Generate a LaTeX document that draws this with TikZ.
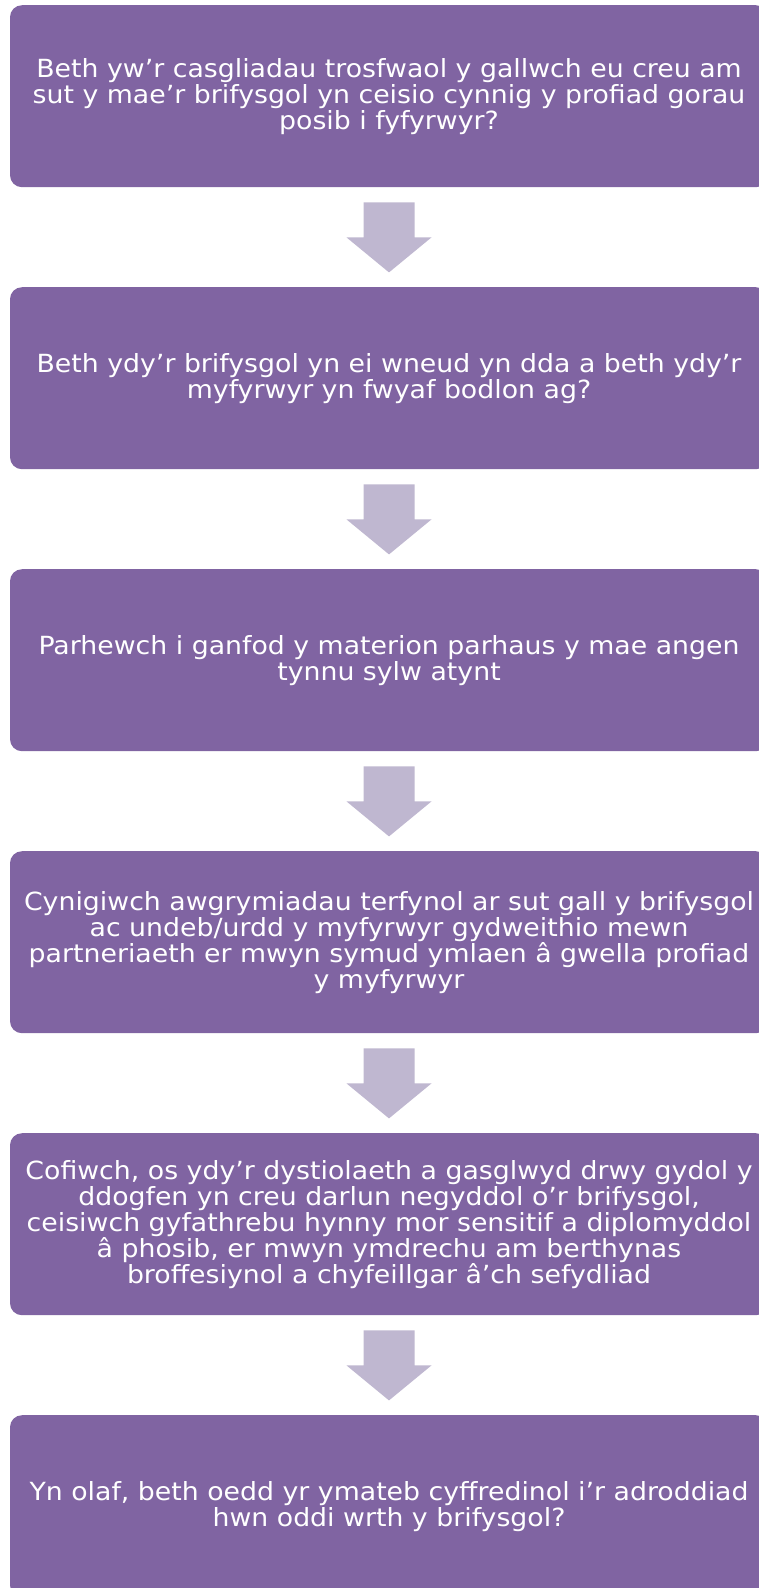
\documentclass[tikz,border=0pt]{standalone}
\usepackage{fontspec}
\setmainfont{DejaVu Sans}[FakeStretch=1.07]
\usetikzlibrary{calc}
\definecolor{boxpurple}{RGB}{128,100,162}
\definecolor{arrowlilac}{RGB}{191,183,208}
\tikzset{
  stepbox/.style={fill=boxpurple, rounded corners=12pt, minimum width=758pt,
    minimum height=182pt, text=white, align=center, inner sep=0pt, anchor=north,
    font=\fontsize{25}{26}\selectfont},
  blockarrow/.style={fill=arrowlilac}
}
\newcommand{\downarrowshape}[1]{%
  \fill[blockarrow] ($(#1.south)+(-25.5,-15)$) -- ($(#1.south)+(25.5,-15)$)
    -- ($(#1.south)+(25.5,-50)$) -- ($(#1.south)+(42.5,-50)$)
    -- ($(#1.south)+(0,-85)$) -- ($(#1.south)+(-42.5,-50)$)
    -- ($(#1.south)+(-25.5,-50)$) -- cycle;}
\begin{document}
\begin{tikzpicture}[x=1pt,y=1pt]
\useasboundingbox (0,0) rectangle (759,-1588);
\clip (0,0) rectangle (759,-1588);
\node[stepbox] (b1) at (389,-5) {Beth yw’r casgliadau trosfwaol y gallwch eu creu am\\ sut y mae’r brifysgol yn ceisio cynnig y profiad gorau\\ posib i fyfyrwyr?};
\node[stepbox] (b2) at (389,-287) {Beth ydy’r brifysgol yn ei wneud yn dda a beth ydy’r\\ myfyrwyr yn fwyaf bodlon ag?};
\node[stepbox] (b3) at (389,-569) {Parhewch i ganfod y materion parhaus y mae angen\\ tynnu sylw atynt};
\node[stepbox] (b4) at (389,-851) {Cynigiwch awgrymiadau terfynol ar sut gall y brifysgol\\ ac undeb/urdd y myfyrwyr gydweithio mewn\\ partneriaeth er mwyn symud ymlaen â gwella profiad\\ y myfyrwyr};
\node[stepbox] (b5) at (389,-1133) {Cofiwch, os ydy’r dystiolaeth a gasglwyd drwy gydol y\\ ddogfen yn creu darlun negyddol o’r brifysgol,\\ ceisiwch gyfathrebu hynny mor sensitif a diplomyddol\\ â phosib, er mwyn ymdrechu am berthynas\\ broffesiynol a chyfeillgar â’ch sefydliad};
\node[stepbox] (b6) at (389,-1415) {Yn olaf, beth oedd yr ymateb cyffredinol i'r adroddiad\\ hwn oddi wrth y brifysgol?};
\downarrowshape{b1}
\downarrowshape{b2}
\downarrowshape{b3}
\downarrowshape{b4}
\downarrowshape{b5}
\end{tikzpicture}
\end{document}
